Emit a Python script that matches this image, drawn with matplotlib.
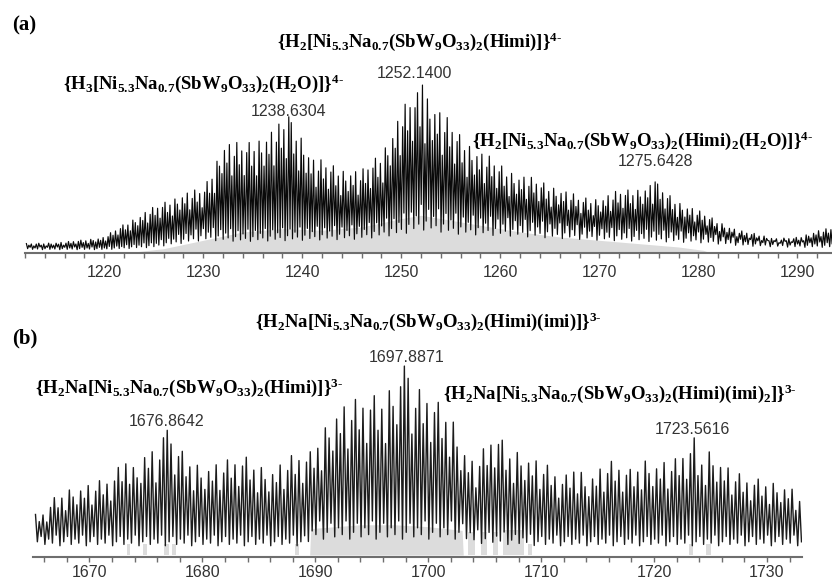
import numpy as np
import matplotlib.pyplot as plt
from matplotlib.ticker import MultipleLocator

plt.rcParams['font.family'] = ['Liberation Sans', 'DejaVu Sans']
plt.rcParams['mathtext.fontset'] = 'custom'
plt.rcParams['mathtext.rm'] = 'Liberation Serif:bold'
plt.rcParams['mathtext.it'] = 'Liberation Serif:bold'
plt.rcParams['mathtext.bf'] = 'Liberation Serif:bold'

# --- panel (a): 4- ions, isotope spacing 1/4 ---
a_top_mz = [1212, 1216, 1220, 1222, 1224, 1226, 1228, 1230, 1231, 1232, 1234, 1236,
            1237.5, 1238.6304, 1240, 1241, 1242, 1244, 1246, 1248, 1249, 1250, 1251,
            1252.14, 1253, 1254, 1256, 1258, 1260, 1262, 1264, 1266, 1268, 1270, 1272,
            1274, 1275.6428, 1277, 1278, 1280, 1282, 1284, 1286, 1288, 1290, 1292, 1294]
a_top = [5, 6, 9, 17, 24, 30, 36, 38, 51, 67, 65, 71,
         76, 81, 71, 57, 55, 51, 49, 61, 73, 85, 94,
         100, 94, 85, 71, 61, 53, 47, 43, 39, 33, 33, 37,
         39, 42, 35, 31, 25, 19, 13, 11, 8, 9, 13, 15]
a_low_mz = [1212, 1220, 1225, 1230, 1234, 1240, 1246, 1250, 1252, 1256, 1260, 1270,
            1280, 1285, 1290, 1294]
a_low = [2, 2, 4, 10, 9, 10, 11, 15, 19, 15, 14, 10, 8, 5, 4, 4]
a_sim_mz = [1223, 1226, 1230, 1234, 1238, 1242, 1246, 1250, 1252, 1254, 1258, 1262,
            1266, 1270, 1274, 1278, 1280.5, 1281]
a_sim = [0, 2, 7, 12, 14, 13, 15, 20, 22, 20, 16, 12, 9, 7, 5, 3, 1, 0]
a_labels_mz = [1238.6304, 1252.1400, 1275.6428]
a_ticks = [1220, 1230, 1240, 1250, 1260, 1270, 1280, 1290]

# --- panel (b): 3- ions, isotope spacing 1/3 ---
b_top_mz = [1665, 1666, 1667, 1668, 1670, 1672, 1673.5, 1674, 1675, 1676, 1676.8642,
            1678, 1680, 1682, 1684, 1686, 1688, 1689.5, 1690, 1691, 1692, 1694, 1696,
            1697.8871, 1699, 1700, 1702, 1703, 1704, 1705, 1706, 1707, 1708, 1709, 1710,
            1712, 1713, 1714, 1716, 1718, 1719, 1720, 1722, 1723.5616, 1724, 1725, 1726,
            1728, 1730, 1732, 1733]
b_top = [21, 23, 32, 36, 38, 41, 58, 46, 58, 55, 66,
         57, 48, 50, 53, 46, 53, 55, 62, 72, 80, 83, 88,
         100, 88, 86, 78, 60, 50, 57, 67, 58, 57, 53, 50,
         41, 51, 42, 50, 46, 53, 50, 51, 62, 53, 58, 50,
         41, 41, 37, 32]
b_low_mz = [1665, 1689, 1690, 1703, 1704, 1710, 1733]
b_low = [7, 7, 12, 12, 9, 7, 7]
b_sim_mz = [1689.5, 1689.6, 1694, 1697, 1700, 1703, 1703.1]
b_sim = [0, 14, 16, 16, 15, 13, 0]
b_bar_left = [1673.3, 1674.7, 1676.6, 1677.3, 1688.2, 1703.5, 1704.7, 1705.7, 1706.6,
              1708.8, 1723.1, 1724.6]
b_bar_width = [0.3, 0.4, 0.4, 0.4, 0.4, 0.6, 0.5, 0.5, 1.9, 0.4, 0.35, 0.45]
b_bar_height = [6, 6, 6, 6, 6, 12, 12, 12, 13, 6, 6, 6]
b_labels_mz = [1676.8642, 1697.8871, 1723.5616]
b_ticks = [1670, 1680, 1690, 1700, 1710, 1720, 1730]

# peak-to-peak scatter of tips and valleys seen in the traces
tip_var = [1.0, 0.8, 0.93, 0.7, 0.9, 0.98, 0.76, 0.88, 0.66, 0.95, 0.84, 0.72, 0.91,
           0.8, 0.97, 0.69, 0.87]
low_var = [1.0, 1.4, 0.8, 1.2, 0.9, 1.5, 0.7]


def spectrum(anchor, lo, hi, step, top_mz, top, low_mz, low, labels):
    n0 = int(np.floor((anchor - lo) / step))
    centres = anchor - step * n0 + step * np.arange(int((hi - lo) / step) + 1)
    tops = np.interp(centres, top_mz, top) * np.resize(tip_var, len(centres))
    for m in labels:
        k = np.argmin(abs(centres - m))
        tops[k] = np.interp(m, top_mz, top)
    x = np.empty(2 * len(centres))
    y = np.empty(2 * len(centres))
    x[0::2] = centres
    y[0::2] = tops
    x[1::2] = centres + step / 2
    y[1::2] = np.interp(centres + step / 2, low_mz, low) * np.resize(low_var, len(centres))
    return x, y


def style(ax, lo, hi, ticks, pad):
    for s in ['top', 'right', 'left']:
        ax.spines[s].set_visible(False)
    ax.spines['bottom'].set_color('#6e6e6e')
    ax.spines['bottom'].set_linewidth(1.5)
    ax.set_yticks([])
    ax.set_xlim(lo, hi)
    ax.set_xticks(ticks)
    ax.xaxis.set_minor_locator(MultipleLocator(2))
    ax.tick_params(axis='x', which='both', length=3.5, width=1, color='#6e6e6e',
                   labelsize=11.5, labelcolor='#333333', pad=pad)


W, H = 832, 584
fig = plt.figure(figsize=(W / 100, H / 100), dpi=100)

# panel (a)
ax1 = fig.add_axes([25 / W, 1 - 253 / H, 1 - 25 / W, 193 / H])
xa, ya = spectrum(1252.14, 1212.0, 1294.0, 0.25, a_top_mz, a_top, a_low_mz, a_low, a_labels_mz)
ax1.fill_between(a_sim_mz, 0, a_sim, color='#dcdcdc', lw=0, zorder=1)
ax1.plot(xa, ya, color='#0a0a0a', lw=0.85, zorder=2)
ax1.set_ylim(-0.6, 115)
style(ax1, 1212.0, 1293.5, a_ticks, 5)

# panel (b)
ax2 = fig.add_axes([33 / W, 1 - 557 / H, (802 - 33) / W, 217 / H])
xb, yb = spectrum(1697.8871, 1665.2, 1733.0, 1 / 3, b_top_mz, b_top, b_low_mz, b_low, b_labels_mz)
ax2.fill_between(b_sim_mz, 0, b_sim, color='#dcdcdc', lw=0, zorder=1)
ax2.bar(b_bar_left, b_bar_height, width=b_bar_width, align='edge', color='#dcdcdc', lw=0, zorder=1)
ax2.plot(xb, yb, color='#1c1c1c', lw=1.0, zorder=2)
ax2.set_ylim(-1.06, 113.8)
style(ax2, 1665.0, 1733.1, b_ticks, 2.5)


def ftext(x, y, s, **kw):
    fig.text(x / W, 1 - y / H, s, **kw)


ftext(12, 25, '(a)', family='Liberation Serif', weight='bold', fontsize=15, va='center')
ftext(12, 338, '(b)', family='Liberation Serif', weight='bold', fontsize=15, va='center')

f = dict(fontsize=13.5, va='center', color='black')
ftext(277, 42, '$\\{\\mathrm{H_2[Ni_{5.3}Na_{0.7}(SbW_9O_{33})_2(Himi)]}\\}^{4\u2010}$', **f)
ftext(63, 84, '$\\{\\mathrm{H_3[Ni_{5.3}Na_{0.7}(SbW_9O_{33})_2(H_2O)]}\\}^{4\u2010}$', **f)
ftext(472, 141, '$\\{\\mathrm{H_2[Ni_{5.3}Na_{0.7}(SbW_9O_{33})_2(Himi)_2(H_2O)]}\\}^{4\u2010}$', **f)
ftext(255, 322, '$\\{\\mathrm{H_2Na[Ni_{5.3}Na_{0.7}(SbW_9O_{33})_2(Himi)(imi)]}\\}^{3\u2010}$', **f)
ftext(35, 388, '$\\{\\mathrm{H_2Na[Ni_{5.3}Na_{0.7}(SbW_9O_{33})_2(Himi)]}\\}^{3\u2010}$', **f)
ftext(443, 394, '$\\{\\mathrm{H_2Na[Ni_{5.3}Na_{0.7}(SbW_9O_{33})_2(Himi)(imi)_2]}\\}^{3\u2010}$', **f)

n = dict(fontsize=11.5, color='#333333', ha='center', va='center')
label_dx = [(ax1, a_labels_mz, [112, 73, 162], [0, -8, 0]),
            (ax2, b_labels_mz, [422, 357, 429], [0, 2, -2])]
for ax, labs, ys, dxs in label_dx:
    for m, yy, dx in zip(labs, ys, dxs):
        px = ax.transData.transform((m, 0))[0]
        ftext(px + dx, yy, f'{m:.4f}', **n)

fig.savefig('out.png', dpi=100)
